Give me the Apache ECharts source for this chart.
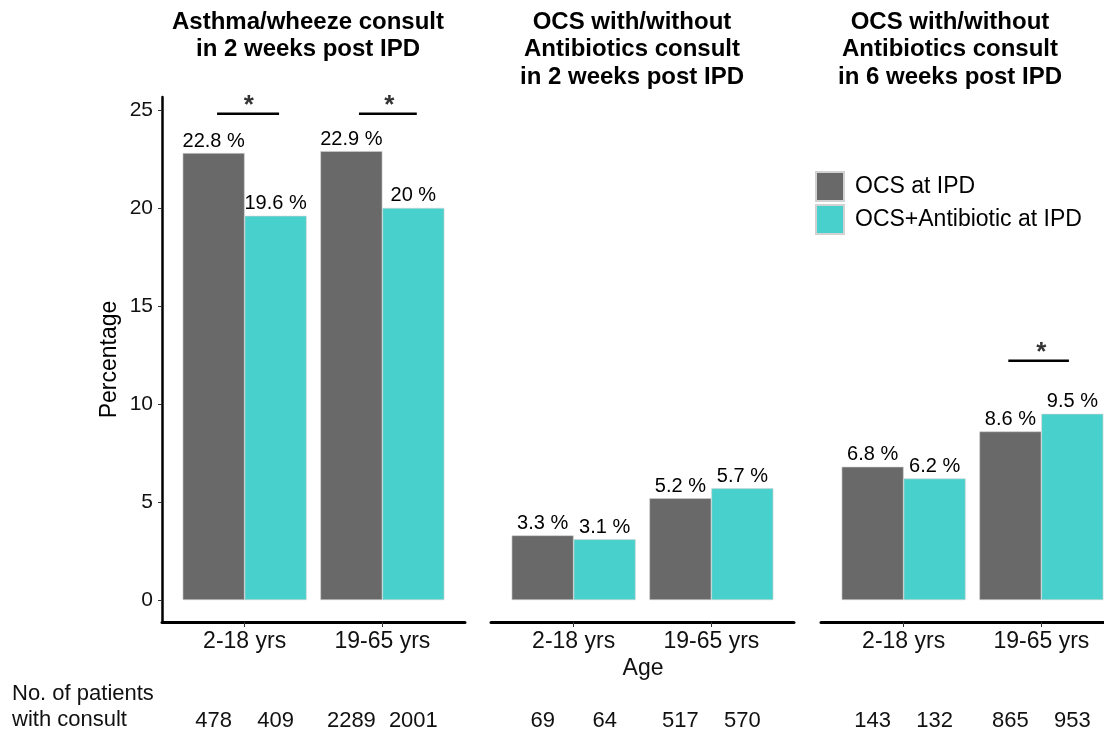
<!DOCTYPE html>
<html><head><meta charset="utf-8">
<script src="https://cdn.jsdelivr.net/npm/echarts@6/dist/echarts.min.js"></script>
<style>html,body{margin:0;padding:0;background:#fff}#c{width:1104px;height:736px}</style>
</head><body><div id="c"></div>
<script>
// ---------- data ----------
const ageGroups = ['2-18 yrs', '19-65 yrs'];
const panelTitles = [
  ['Asthma/wheeze consult', 'in 2 weeks post IPD'],
  ['OCS with/without', 'Antibiotics consult', 'in 2 weeks post IPD'],
  ['OCS with/without', 'Antibiotics consult', 'in 6 weeks post IPD']
];
const seriesNames = ['OCS at IPD', 'OCS+Antibiotic at IPD'];
const ocsPct = [[22.8, 22.9], [3.3, 5.2], [6.8, 8.6]];
const ocsAbxPct = [[19.6, 20], [3.1, 5.7], [6.2, 9.5]];
const ocsCount = [[478, 2289], [69, 517], [143, 865]];
const ocsAbxCount = [[409, 2001], [64, 570], [132, 953]];
const yTicks = [0, 5, 10, 15, 20, 25];
// significance brackets (age-group units / percentage units)
const sigPanel = [0, 0, 2];
const sigFrom = [0.80, 1.83, 1.76];
const sigTo = [1.25, 2.25, 2.20];
const sigY = [24.8, 24.8, 12.2];
const sigStarX = [1.03, 2.05, 2.0];

// ---------- layout / style ----------
const FONT = "'Liberation Sans', Arial, sans-serif";
const panelLeft = [162, 491, 821];
const panelW = 303, panelTop = 97, panelH = 525;
const titleX = [308, 632, 950];
const colors = ['#696969', '#48D1CC'];

const grid = [], xAxis = [], yAxis = [], series = [], graphic = [];

// main panels: grid / axis index p
for (let p = 0; p < 3; p++) {
  grid.push({left: panelLeft[p], top: panelTop, width: panelW, height: panelH, outerBoundsMode: 'none', containLabel: false});
  xAxis.push({
    type: 'value', gridIndex: p, min: 0.4, max: 2.6,
    splitLine: {show: false},
    axisLine: {show: true, onZero: false, lineStyle: {color: '#000', width: 3}},
    axisTick: {show: true, customValues: [1, 2], length: 5, lineStyle: {color: '#333', width: 1}},
    axisLabel: {show: true, customValues: [1, 2], formatter: v => ageGroups[Math.round(v) - 1] || '',
      fontSize: 23, color: '#111', fontFamily: FONT, margin: 8}
  });
  yAxis.push({
    type: 'value', gridIndex: p, min: -1.12, max: 25.66, show: p === 0,
    splitLine: {show: false},
    axisLine: {show: true, onZero: false, lineStyle: {color: '#000', width: 2.5}},
    axisTick: {show: true, customValues: yTicks, length: 4, lineStyle: {color: '#333', width: 1}},
    axisLabel: {show: true, customValues: yTicks, fontSize: 21, color: '#111', fontFamily: FONT, margin: 9},
    name: p === 0 ? 'Percentage' : '', nameLocation: 'middle', nameGap: 41,
    nameTextStyle: {fontSize: 23, color: '#000', fontFamily: FONT}
  });
  const pctSets = [ocsPct[p], ocsAbxPct[p]];
  for (let s = 0; s < 2; s++) {
    series.push({
      type: 'bar', name: seriesNames[s], xAxisIndex: p, yAxisIndex: p,
      barWidth: '45%', barGap: '0%',
      itemStyle: {color: colors[s], borderColor: '#d2d2d2', borderWidth: 0.6},
      label: {show: true, position: 'top', distance: 2, fontSize: 20, color: '#000', fontFamily: FONT,
        formatter: prm => prm.value[1] + ' %'},
      data: pctSets[s].map((v, i) => [i + 1, v])
    });
  }
  panelTitles[p].forEach((t, k) => {
    graphic.push({type: 'text', x: titleX[p], y: 22 + k * 27.5,
      style: {text: t, font: 'bold 24px ' + FONT, fill: '#000', textAlign: 'center', textVerticalAlign: 'middle'}});
  });
}

// count rows: grid / axis index 3 + p
for (let p = 0; p < 3; p++) {
  const gi = p + 3;
  grid.push({left: panelLeft[p], top: 706, width: panelW, height: 30, outerBoundsMode: 'none', containLabel: false});
  xAxis.push({type: 'value', gridIndex: gi, min: 0.4, max: 2.6, show: false});
  yAxis.push({type: 'value', gridIndex: gi, min: 0, max: 1, show: false});
  const cntSets = [ocsCount[p], ocsAbxCount[p]];
  for (let s = 0; s < 2; s++) {
    series.push({
      type: 'bar', name: 'count' + p + '_' + s, xAxisIndex: gi, yAxisIndex: gi,
      barWidth: '45%', barGap: '0%', silent: true,
      itemStyle: {color: 'rgba(0,0,0,0)'},
      label: {show: true, position: 'inside', fontSize: 22, color: '#111', fontFamily: FONT,
        formatter: prm => String(cntSets[s][prm.dataIndex])},
      data: cntSets[s].map((v, i) => [i + 1, 1])
    });
  }
}

// significance brackets and stars
for (let k = 0; k < sigPanel.length; k++) {
  series.push({
    type: 'line', name: 'sig' + k, xAxisIndex: sigPanel[k], yAxisIndex: sigPanel[k],
    symbol: 'none', silent: true, lineStyle: {color: '#000', width: 2.5},
    data: [[sigFrom[k], sigY[k]], [sigTo[k], sigY[k]]]
  });
  series.push({
    type: 'scatter', name: 'star' + k, xAxisIndex: sigPanel[k], yAxisIndex: sigPanel[k],
    symbolSize: 0, silent: true,
    label: {show: true, position: 'top', distance: -5, formatter: '*', fontSize: 26, fontWeight: 'bold',
      color: '#000', fontFamily: FONT},
    data: [[sigStarX[k], sigY[k]]]
  });
}

graphic.push({type: 'text', x: 643, y: 669,
  style: {text: 'Age', font: '23px ' + FONT, fill: '#111', textAlign: 'center', textVerticalAlign: 'middle'}});
graphic.push({type: 'text', x: 12, y: 694,
  style: {text: 'No. of patients', font: '22px ' + FONT, fill: '#111', textAlign: 'left', textVerticalAlign: 'middle'}});
graphic.push({type: 'text', x: 12, y: 720,
  style: {text: 'with consult', font: '22px ' + FONT, fill: '#111', textAlign: 'left', textVerticalAlign: 'middle'}});

const chart = echarts.init(document.getElementById('c'));
chart.setOption({
  animation: false,
  backgroundColor: '#fff',
  textStyle: {fontFamily: FONT},
  legend: {
    data: seriesNames, orient: 'vertical', left: 810, top: 166,
    itemWidth: 28, itemHeight: 29, itemGap: 2, icon: 'rect', selectedMode: false,
    textStyle: {fontSize: 23, color: '#000', fontFamily: FONT, padding: [0, 0, 0, 6]}
  },
  grid, xAxis, yAxis, series, graphic
});
</script>
</body></html>
